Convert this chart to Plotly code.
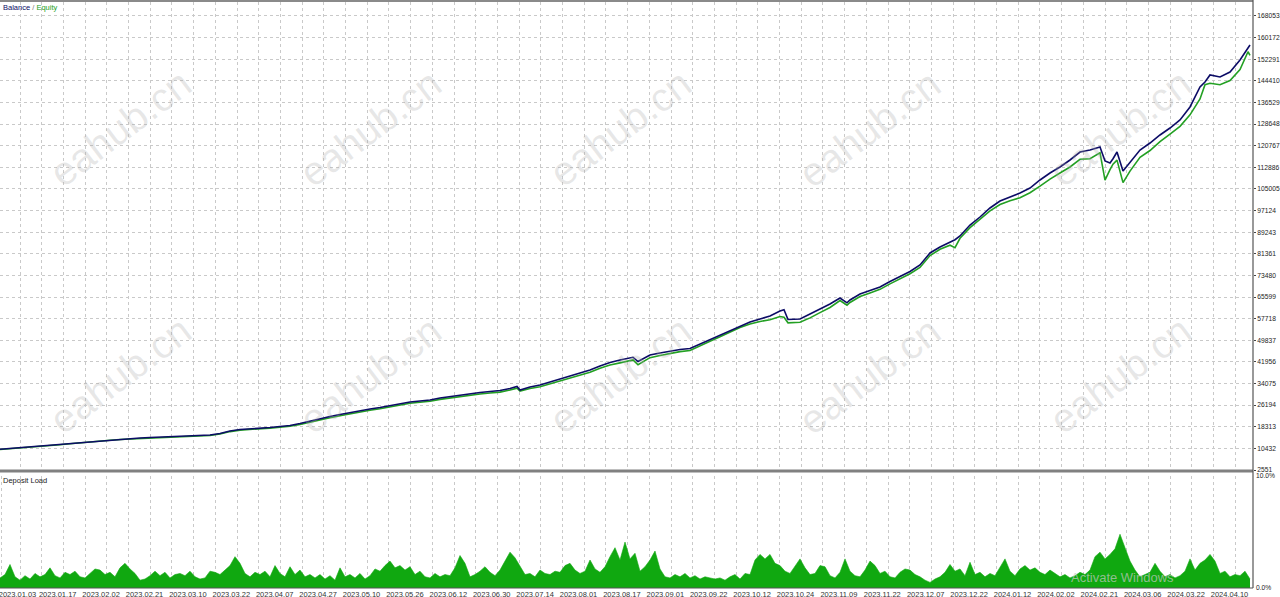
import plotly.graph_objects as go

# ---------------- data ----------------
trade_no = [0, 10, 20, 30, 40, 50, 60, 70, 80, 90, 100, 110, 120, 130, 140, 150, 160, 170, 180, 190,
            200, 210, 220, 230, 240, 250, 260, 270, 280, 290, 300, 310, 320, 330, 340, 350, 360, 370,
            380, 390, 400, 410, 420, 430, 440, 450, 460, 470, 480, 490, 500, 510, 517, 520, 530, 540,
            550, 560, 570, 580, 590, 600, 610, 620, 633, 638, 650, 660, 670, 680, 690, 700, 710, 720,
            730, 740, 750, 760, 770, 780, 784, 788, 800, 810, 820, 830, 840, 847, 850, 860, 870, 880,
            890, 900, 910, 920, 930, 940, 950, 955, 960, 970, 980, 990, 1000, 1010, 1020, 1030, 1040,
            1050, 1060, 1070, 1080, 1090, 1100, 1105, 1110, 1113, 1117, 1123, 1130, 1140, 1150, 1160,
            1170, 1180, 1190, 1200, 1205, 1210, 1220, 1230, 1240, 1248, 1250]

balance = [10100, 10390, 10640, 10930, 11300, 11550, 11850, 12210, 12580, 12940, 13200, 13490, 13780,
           13930, 14220, 14400, 14580, 14690, 14840, 14940, 15130, 15310, 15860, 16770, 17310, 17500,
           17750, 18040, 18400, 18770, 19500, 20410, 21320, 22050, 22780, 23510, 24240, 24790, 25330,
           26060, 26610, 27340, 27700, 28070, 28800, 29340, 29890, 30440, 30800, 31170, 31530, 32260,
           33000, 31710, 32800, 33530, 34630, 35720, 36810, 37910, 39000, 40460, 41740, 42650, 43650,
           42100, 44470, 45200, 45930, 46470, 46840, 48480, 49940, 51580, 53220, 55040, 56500, 57590,
           58690, 60510, 61000, 57400, 57590, 59410, 61240, 63060, 65250, 63500, 64520, 66700, 67980,
           69260, 71260, 73080, 74900, 77270, 81650, 83840, 85660, 86500, 87840, 91850, 94770, 98050,
           100600, 102060, 103520, 105340, 108260, 110810, 113000, 115550, 118460, 119190, 120290,
           115200, 114450, 116000, 118460, 111540, 114820, 119190, 121740, 124660, 127210, 130130,
           134870, 142150, 144000, 146530, 145800, 147620, 152000, 156700, 157460]

equity = [10050, 10300, 10560, 10850, 11180, 11450, 11760, 12100, 12470, 12820, 13080, 13380, 13650,
          13800, 14080, 14250, 14430, 14560, 14690, 14800, 14980, 15150, 15650, 16550, 17100, 17280,
          17520, 17800, 18150, 18500, 19150, 20050, 20950, 21600, 22350, 23050, 23700, 24350, 24850,
          25600, 26150, 26900, 27250, 27600, 28300, 28850, 29350, 29900, 30250, 30600, 30950, 31700,
          32400, 31300, 32250, 32900, 34000, 35000, 36000, 37050, 38150, 39600, 40800, 41600, 42700,
          40900, 43500, 44300, 45100, 45700, 46100, 47900, 49500, 51100, 52700, 54500, 55800, 56700,
          57300, 58500, 58200, 56200, 56400, 58000, 59900, 61800, 64300, 62600, 63600, 65800, 67100,
          68400, 70400, 72200, 74100, 76400, 80700, 83000, 84500, 83600, 87000, 90900, 93800, 97000,
          99300, 100700, 101800, 103600, 106000, 108600, 110800, 113000, 115800, 116000, 118200,
          108200, 112000, 114000, 115500, 107300, 111500, 116500, 119000, 122200, 125000, 127800,
          132000, 137800, 143000, 143500, 143000, 144500, 148500, 155000, 153700]

# deposit load in %, one reading every 5 trade steps (0 .. 1250)
deposit_load = [0.9, 1.2, 2.1, 1.0, 0.7, 1.1, 0.8, 1.3, 1.0, 1.2, 1.8, 1.1, 0.9, 1.4, 1.2, 1.5, 1.0, 0.9,
                1.3, 1.7, 1.6, 1.2, 1.4, 1.0, 1.8, 2.2, 1.7, 1.3, 0.7, 0.8, 1.1, 1.5, 1.1, 1.4, 0.9, 1.2,
                1.3, 1.1, 1.5, 1.0, 0.8, 0.9, 1.5, 1.4, 1.2, 1.6, 2.0, 2.8, 2.2, 1.3, 1.0, 1.4, 1.2, 1.5,
                1.0, 2.0, 1.3, 1.0, 1.9, 1.2, 1.6, 1.0, 1.2, 0.9, 1.2, 0.8, 1.1, 0.7, 1.8, 1.0, 1.2, 0.9,
                1.3, 0.8, 1.1, 1.7, 1.5, 2.0, 2.4, 1.8, 2.0, 1.6, 1.9, 1.2, 1.5, 1.0, 0.9, 1.3, 1.0, 1.2,
                1.1, 1.8, 2.9, 2.2, 1.0, 1.2, 1.5, 1.9, 1.4, 1.1, 1.6, 2.4, 3.2, 2.7, 2.0, 1.2, 1.3, 1.0,
                1.6, 1.3, 1.2, 1.5, 1.4, 2.0, 2.2, 1.6, 1.3, 1.5, 2.5, 1.7, 1.4, 1.9, 2.8, 3.6, 2.5, 4.1,
                2.6, 3.1, 1.5, 1.9, 2.5, 3.3, 1.7, 1.0, 0.9, 1.2, 1.0, 1.3, 0.9, 1.1, 0.8, 1.0, 0.9, 0.8,
                0.9, 0.7, 1.0, 1.2, 0.8, 1.3, 1.2, 2.5, 3.0, 2.6, 3.0, 2.2, 2.0, 1.5, 1.3, 2.0, 2.6, 1.8,
                1.2, 1.3, 2.0, 1.9, 1.1, 0.9, 1.4, 2.6, 1.5, 1.1, 1.0, 1.6, 2.4, 2.0, 1.3, 1.5, 1.0, 0.9,
                1.4, 1.7, 1.6, 1.2, 1.0, 0.7, 0.5, 0.8, 1.0, 1.4, 2.1, 1.5, 1.7, 1.1, 2.3, 1.2, 1.4, 1.0,
                1.3, 1.1, 1.9, 2.6, 1.5, 1.1, 1.7, 2.0, 1.6, 1.8, 1.4, 1.2, 1.6, 1.3, 1.0, 1.2, 0.9, 1.1,
                1.4, 1.2, 1.6, 2.8, 3.2, 2.6, 3.0, 3.5, 4.8, 3.6, 2.4, 1.6, 1.0, 1.2, 1.4, 2.2, 1.5, 1.0,
                1.2, 0.9, 1.1, 1.5, 2.6, 1.6, 2.2, 2.5, 3.0, 2.4, 1.3, 1.5, 1.0, 1.2, 1.1, 1.5, 0.8]
deposit_step = 5

date_labels = ["2023.01.03", "2023.01.17", "2023.02.02", "2023.02.21", "2023.03.10", "2023.03.22",
               "2023.04.07", "2023.04.27", "2023.05.10", "2023.05.26", "2023.06.12", "2023.06.30",
               "2023.07.14", "2023.08.01", "2023.08.17", "2023.09.01", "2023.09.22", "2023.10.12",
               "2023.10.24", "2023.11.09", "2023.11.22", "2023.12.07", "2023.12.22", "2024.01.12",
               "2024.02.02", "2024.02.21", "2024.03.06", "2024.03.22", "2024.04.10"]

y_ticks = [2551, 10432, 18313, 26194, 34075, 41956, 49837, 57718, 65599, 73480, 81361, 89243,
           97124, 105005, 112886, 120767, 128648, 136529, 144410, 152291, 160172, 168053]

# ---------------- styling / layout ----------------
W, H = 1280, 597
PLOT_R = 1253           # right edge of plot area (px)
PLOT_B = 588            # bottom of plot area (px)
FONT = "Liberation Sans"
BAL_COLOR = "#0c0c66"
EQ_COLOR = "#23a023"
DL_COLOR = "#10a810"
GRID = "#c9c9c9"

# grid every ~21.7 px, labels on every other grid line
grid_step = 21.7
grid_x = [20 + grid_step * j for j in range(57)]
tickvals_x = [1.5] + grid_x
ticktext_x = [date_labels[0]] + [date_labels[(j + 1) // 2] if j % 2 == 1 else "" for j in range(57)]

deposit_x = [i * deposit_step for i in range(len(deposit_load))]

fig = go.Figure()
fig.add_trace(go.Scatter(x=deposit_x, y=deposit_load, xaxis="x2", yaxis="y2", mode="lines",
                         line=dict(color=DL_COLOR, width=0.6), fill="tozeroy",
                         fillcolor=DL_COLOR, hoverinfo="skip", showlegend=False))
fig.add_trace(go.Scatter(x=trade_no, y=equity, mode="lines", line=dict(color=EQ_COLOR, width=1.6),
                         name="Equity", showlegend=False))
fig.add_trace(go.Scatter(x=trade_no, y=balance, mode="lines", line=dict(color=BAL_COLOR, width=1.6),
                         name="Balance", showlegend=False))

H_PLOT = PLOT_B
top_dom = [(PLOT_B - 470) / H_PLOT, (PLOT_B - 2) / H_PLOT]
bot_dom = [0, (PLOT_B - 476) / H_PLOT]

xaxis_common = dict(range=[0, PLOT_R], showgrid=True, gridcolor=GRID, griddash="3px,3px", gridwidth=1,
                    zeroline=False, showline=False, fixedrange=True, automargin=False)

fig.update_layout(
    width=W, height=H,
    margin=dict(l=0, r=W - PLOT_R, t=0, b=H - PLOT_B, autoexpand=False),
    paper_bgcolor="white", plot_bgcolor="white",
    font=dict(family=FONT, size=8, color="#222222"),
    xaxis=dict(**xaxis_common, domain=[0, 1], anchor="y", tickvals=grid_x, showticklabels=False,
               ticks=""),
    xaxis2=dict(**xaxis_common, domain=[0, 1], anchor="y2", matches="x", tickvals=tickvals_x,
                ticktext=ticktext_x, ticks="", ticklabelshift=16, ticklabelstandoff=0,
                ticklabeloverflow="allow", tickfont=dict(size=7.5, color="#333333")),
    yaxis=dict(domain=top_dom, range=[y_ticks[0], y_ticks[0] + 468 * 364.5], side="right",
               tickvals=y_ticks, ticktext=[str(v) for v in y_ticks], showgrid=True, gridcolor=GRID,
               griddash="3px,3px", zeroline=False, ticks="outside", ticklen=2, tickcolor="#444",
               ticklabelstandoff=0, ticklabeloverflow="allow",
               tickfont=dict(size=6.7, color="#222"), fixedrange=True, automargin=False),
    yaxis2=dict(domain=bot_dom, range=[0, 10], side="right", anchor="x2", tickvals=[0, 10],
                ticktext=["0.0%", "10.0%"], showgrid=False, zeroline=False, ticks="",
                ticklabelstandoff=2, ticklabeloverflow="allow",
                tickfont=dict(size=6.7, color="#222"), fixedrange=True, automargin=False),
    showlegend=False,
)

shapes = [
    # top border
    dict(type="line", xref="paper", yref="paper", x0=0, x1=1, y0=1 - 1 / H_PLOT, y1=1 - 1 / H_PLOT,
         line=dict(color="#8a8a8a", width=2)),
    # divider between panels
    dict(type="line", xref="paper", yref="paper", x0=0, x1=1, y0=(PLOT_B - 471) / H_PLOT,
         y1=(PLOT_B - 471) / H_PLOT, line=dict(color="#808080", width=3)),
    # right axis line
    dict(type="line", xref="paper", yref="paper", x0=1, x1=1, y0=0, y1=1,
         line=dict(color="#555555", width=1.2)),
    # bottom axis line
    dict(type="line", xref="paper", yref="paper", x0=0, x1=1, y0=0, y1=0,
         line=dict(color="#555555", width=1)),
]
fig.update_layout(shapes=shapes)

annotations = [
    dict(text=f'<span style="color:{BAL_COLOR}">Balance</span> / <span style="color:{EQ_COLOR}">Equity</span>',
         xref="paper", yref="paper", x=0.001, y=1, xanchor="left", yanchor="top", showarrow=False,
         font=dict(size=7.5, color="#777777"), yshift=-1),
    dict(text="Deposit Load", xref="paper", yref="paper", x=0.001, y=bot_dom[1] + 0.004,
         xanchor="left", yanchor="top", showarrow=False, font=dict(size=7.5, color="#222222")),
]
for cx in [120, 370, 620, 870, 1120]:
    for cy in [128, 375]:
        annotations.append(dict(text="eahub.cn", xref="paper", yref="paper", x=cx / PLOT_R,
                                y=(PLOT_B - cy) / H_PLOT, xanchor="center", yanchor="middle",
                                showarrow=False, textangle=-37,
                                font=dict(family=FONT, size=40, color="rgba(170,170,170,0.28)")))
annotations.append(dict(text="Activate Windows", xref="paper", yref="paper", x=1122 / PLOT_R,
                        y=(PLOT_B - 577) / H_PLOT, xanchor="center", yanchor="middle", showarrow=False,
                        font=dict(family=FONT, size=13, color="rgba(200,200,200,0.7)")))
fig.update_layout(annotations=annotations)

fig.write_html("out.html", config={"displayModeBar": False},
               post_script="document.body.style.margin='0px';document.body.style.overflow='hidden';")
